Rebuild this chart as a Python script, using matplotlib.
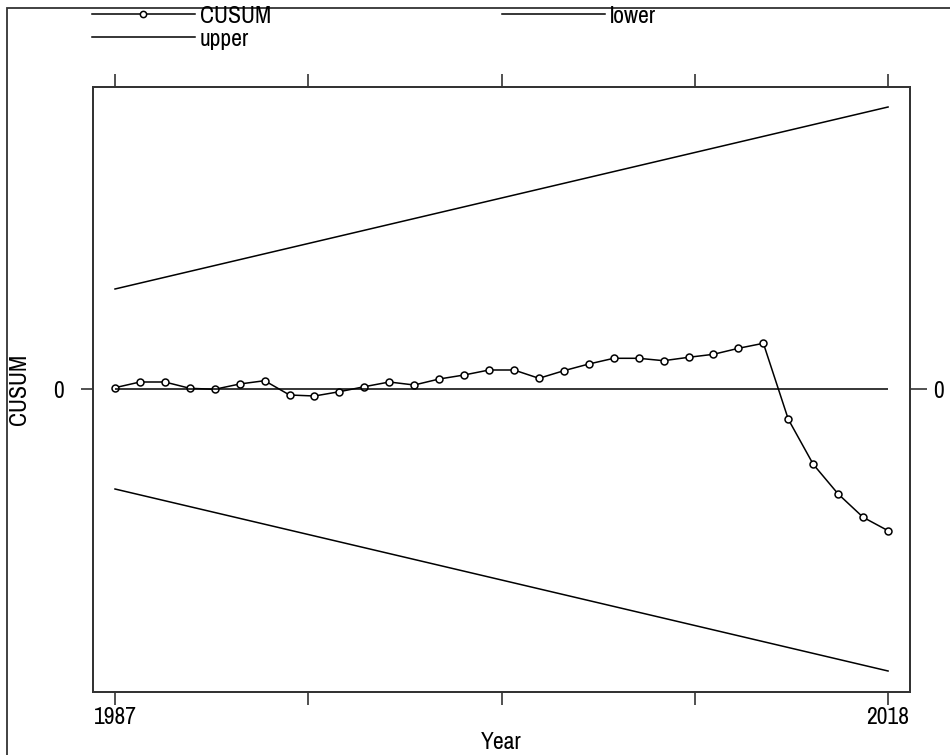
import matplotlib
matplotlib.use("Agg")
import matplotlib.pyplot as plt
from matplotlib.patches import Rectangle

plt.rcParams['font.family'] = ['Pragati Narrow', 'Liberation Sans', 'DejaVu Sans']

years = list(range(1987, 2019))
cusum = [0.13, 0.70, 0.70, 0.07, -0.03, 0.50, 0.83, -0.60, -0.70, -0.27,
         0.23, 0.70, 0.40, 1.00, 1.40, 1.90, 1.90, 1.07, 1.83, 2.50,
         3.07, 3.07, 2.83, 3.17, 3.47, 4.07, 4.57, -3.03, -7.53, -10.50,
         -12.83, -14.17]
bound_years = [1987, 2018]
upper = [10.0, 28.2]
lower = [-10.0, -28.2]
xticks = [1987, 1994.75, 2002.5, 2010.25, 2018]
xticklabels = ["1987", "", "", "", "2018"]
yticks = [0]
yticklabels = ["0"]

W, H = 950, 755
fig = plt.figure(figsize=(W / 100, H / 100), dpi=100)
ax = fig.add_axes([92.7 / W, 1 - 692 / H, (910 - 92.7) / W, (692 - 86.7) / H])

fs = 18.5
lc = 'black'
l_cusum, = ax.plot(years, cusum, color=lc, lw=1.1, marker='o', ms=5.0,
                   mfc='white', mec=lc, mew=1.1, label='CUSUM')
l_upper, = ax.plot(bound_years, upper, color=lc, lw=1.1, label='upper')
l_lower, = ax.plot(bound_years, lower, color=lc, lw=1.1, label='lower')
ax.hlines(0, years[0], years[-1], color=lc, lw=1.1)

ylim = (-30.3, 30.23)
ax.set_xlim(1986.106, 2018.88)
ax.set_ylim(*ylim)
ax.set_xticks(xticks)
ax.set_xticklabels(xticklabels, fontsize=fs)
ax.set_yticks(yticks)
ax.set_yticklabels(yticklabels, fontsize=fs)
ax.tick_params(axis='x', which='both', direction='out', length=9.5, width=1.1,
               top=True, bottom=True, labeltop=False, pad=1, colors='#222222',
               labelcolor='black')
ax.tick_params(axis='y', which='both', direction='out', length=9, width=1.1,
               left=True, right=False, labelleft=True, labelright=False, pad=12,
               colors='#222222', labelcolor='black')

axr = ax.twinx()
axr.set_ylim(*ylim)
axr.set_yticks(yticks)
axr.set_yticklabels(yticklabels, fontsize=fs)
axr.tick_params(axis='y', direction='out', length=12, width=1.1, pad=5,
                colors='#222222', labelcolor='black')

for a in (ax, axr):
    for s in a.spines.values():
        s.set_linewidth(1.3)
        s.set_color('#333333')

ax.set_xlabel('Year', fontsize=fs, labelpad=3)
ax.set_ylabel('CUSUM', fontsize=fs)
ax.yaxis.set_label_coords(-0.077, 0.5)

# outer frame
fig.patches.append(Rectangle((7 / W, -0.05), 1.2, 1.05 - 8 / H,
                             transform=fig.transFigure, fill=False,
                             edgecolor='#333333', lw=1.3))

fig.legend([l_cusum, l_upper, l_lower], ['CUSUM', 'upper', 'lower'],
           ncol=2, loc='upper left', bbox_to_anchor=(92 / W, 1 - 5 / H),
           frameon=False, fontsize=fs, handlelength=4.0,
           handletextpad=0.2, columnspacing=9.0, borderpad=0,
           borderaxespad=0, labelspacing=0.05, markerscale=0.9)

fig.savefig('out.png', dpi=100)
